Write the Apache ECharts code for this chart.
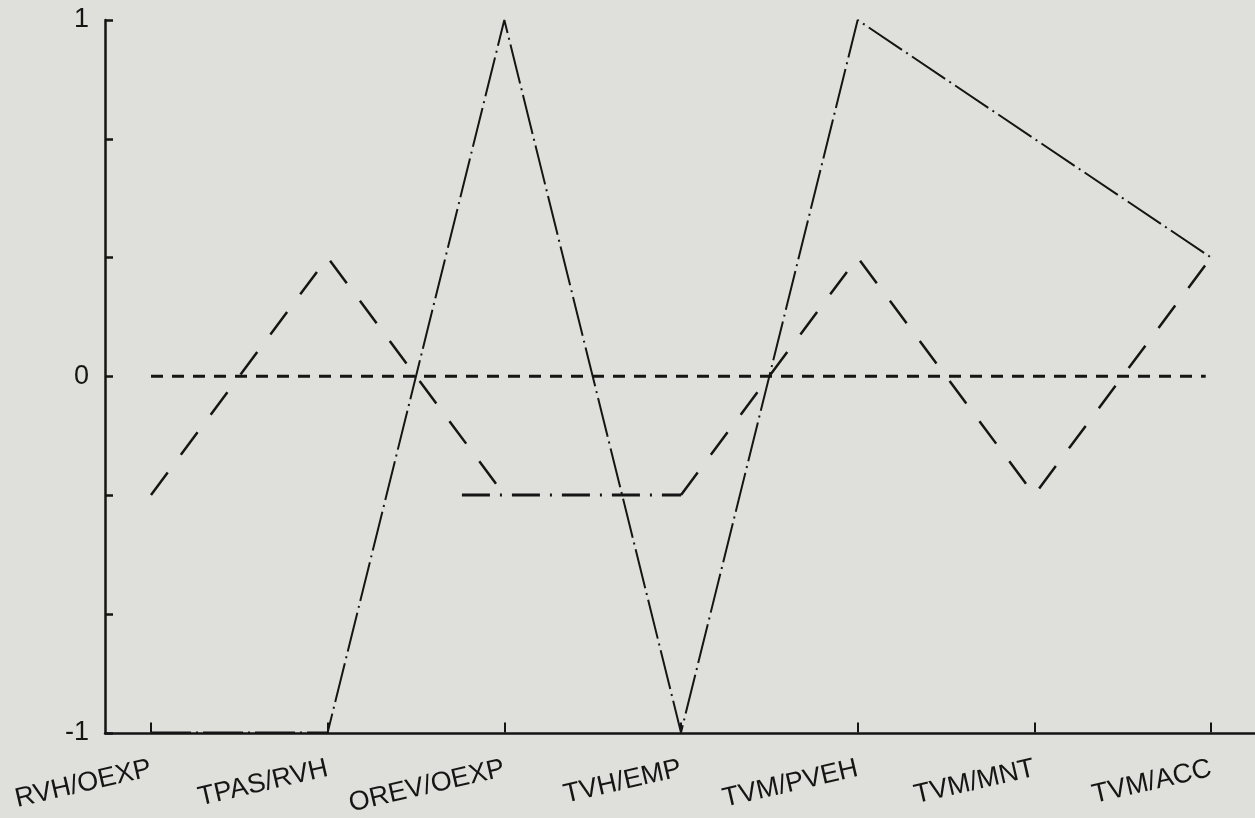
<!DOCTYPE html>
<html>
<head>
<meta charset="utf-8">
<script src="https://cdn.jsdelivr.net/npm/echarts@6/dist/echarts.min.js"></script>
<style>
  html, body { margin: 0; padding: 0; background: #dfdfdb; }
  #chart { width: 1255px; height: 818px; }
</style>
</head>
<body>
<div id="chart"></div>
<script>
// categories along the bottom
var categories = ["RVH/OEXP", "TPAS/RVH", "OREV/OEXP", "TVH/EMP", "TVM/PVEH", "TVM/MNT", "TVM/ACC"];

// long dashed curve, split where the flat dash-dot piece takes over
var dashedLeftX = [0, 1, 2];
var dashedLeft = [-1 / 3, 1 / 3, -1 / 3];
var dashedRightX = [3, 4, 5, 6];
var dashedRight = [-1 / 3, 1 / 3, -1 / 3, 1 / 3];

// flat dash-dot piece at -1/3
var flatX = [1.76, 3];
var flatY = [-1 / 3, -1 / 3];

// dash-dot zig-zag
var dashDotX = [0, 1, 2, 3, 4, 5, 6];
var dashDot = [-1, -1, 1, -1, 1, 2 / 3, 1 / 3];

// zero reference line
var zeroX = [0, 5.97];
var zeroY = [0, 0];

function pairs(xs, ys) {
  return xs.map(function (x, i) { return [x, ys[i]]; });
}

var ink = "#151515";
var myChart = echarts.init(document.getElementById("chart"));

var option = {
  backgroundColor: "#dfdfdb",
  animation: false,
  grid: [
    { left: 151, right: 44, top: 20, bottom: 85 },
    { left: 105, right: 0, top: 20, bottom: 85 }
  ],
  xAxis: [
    {
      gridIndex: 0,
      type: "value",
      min: 0,
      max: 6,
      interval: 1,
      splitLine: { show: false },
      axisLine: { show: false, onZero: false },
      axisTick: { show: true, inside: true, length: 10, lineStyle: { color: ink, width: 2 } },
      axisLabel: {
        rotate: 13,
        margin: 36,
        color: ink,
        fontFamily: "Liberation Sans",
        fontSize: 27,
        formatter: function (v) { return categories[v] || ""; }
      }
    },
    {
      gridIndex: 1,
      type: "value",
      min: 0,
      max: 1,
      splitLine: { show: false },
      axisLine: { show: true, onZero: false, lineStyle: { color: ink, width: 2.5 } },
      axisTick: { show: false },
      axisLabel: { show: false }
    }
  ],
  yAxis: [
    {
      gridIndex: 0,
      type: "value",
      min: -1,
      max: 1,
      show: false
    },
    {
      gridIndex: 1,
      type: "value",
      min: -1,
      max: 1,
      interval: 1 / 3,
      splitLine: { show: false },
      axisLine: { show: true, onZero: false, lineStyle: { color: ink, width: 2.5 } },
      axisTick: { show: true, inside: true, length: 8, lineStyle: { color: ink, width: 2.5 } },
      axisLabel: {
        margin: 16,
        color: ink,
        fontFamily: "Liberation Sans",
        fontSize: 27,
        formatter: function (v) {
          var r = Math.round(v);
          return Math.abs(v - r) < 1e-6 ? String(r) : "";
        }
      }
    }
  ],
  series: [
    {
      name: "zero",
      type: "line",
      xAxisIndex: 0,
      yAxisIndex: 0,
      data: pairs(zeroX, zeroY),
      symbol: "none",
      lineStyle: { color: ink, width: 3, type: [12, 9] }
    },
    {
      name: "dashed-left",
      type: "line",
      xAxisIndex: 0,
      yAxisIndex: 0,
      data: pairs(dashedLeftX, dashedLeft),
      symbol: "none",
      lineStyle: { color: ink, width: 2.5, type: [28, 22] }
    },
    {
      name: "dashed-right",
      type: "line",
      xAxisIndex: 0,
      yAxisIndex: 0,
      data: pairs(dashedRightX, dashedRight),
      symbol: "none",
      lineStyle: { color: ink, width: 2.5, type: [28, 22] }
    },
    {
      name: "flat",
      type: "line",
      xAxisIndex: 0,
      yAxisIndex: 0,
      data: pairs(flatX, flatY),
      symbol: "none",
      lineStyle: { color: ink, width: 3, type: [28, 10, 2, 10] }
    },
    {
      name: "dash-dot",
      type: "line",
      xAxisIndex: 0,
      yAxisIndex: 0,
      data: pairs(dashDotX, dashDot),
      symbol: "none",
      lineStyle: { color: ink, width: 2, type: [40, 5, 2, 5] }
    }
  ]
};

myChart.setOption(option);
</script>
</body>
</html>
